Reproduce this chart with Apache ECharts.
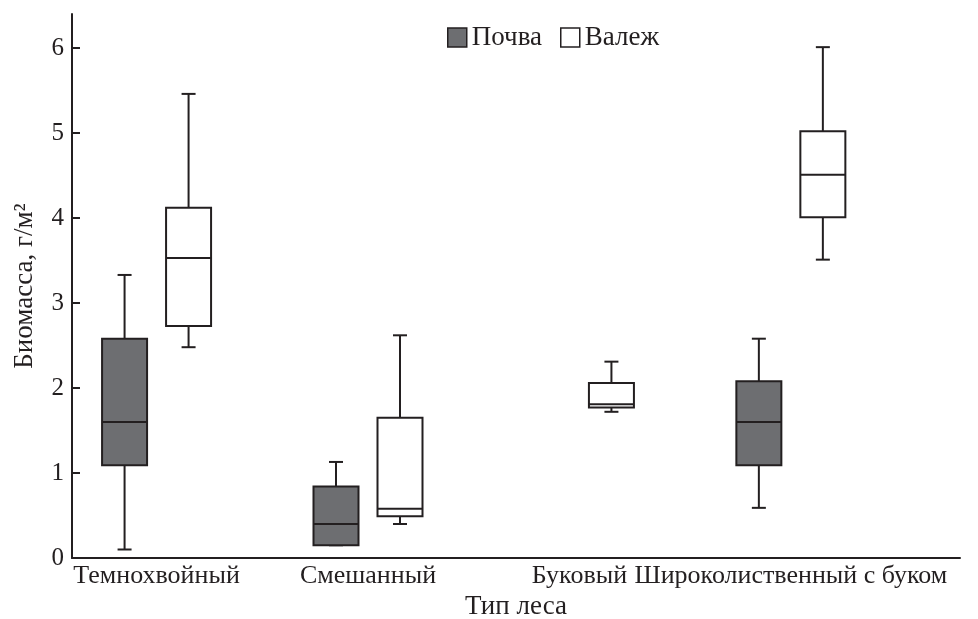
<!DOCTYPE html>
<html lang="ru">
<head>
    <meta charset="UTF-8">
    <title>Биомасса по типам леса</title>
    <script src="https://cdn.jsdelivr.net/npm/echarts@6/dist/echarts.min.js"></script>
</head>
<body style="margin:0">
    <div id="main" style="width: 978px; height: 619px;"></div>

    <script>
        // Forest types (x axis)
        var categories = ['Темнохвойный', 'Смешанный', 'Буковый', 'Широколиственный с буком'];
        // [min, Q1, median, Q3, max] per forest type, null = no box
        var pochva = [
            [0.1, 1.09, 1.6, 2.58, 3.33],
            [0.15, 0.15, 0.4, 0.84, 1.13],
            null,
            [0.59, 1.09, 1.6, 2.08, 2.58]
        ];
        var valezh = [
            [2.48, 2.73, 3.53, 4.12, 5.46],
            [0.4, 0.49, 0.58, 1.65, 2.62],
            [1.72, 1.77, 1.81, 2.06, 2.31],
            [3.51, 4.01, 4.51, 5.02, 6.01]
        ];
        var yTicks = [0, 1, 2, 3, 4, 5, 6];

        var ink = '#231f20';
        var font = 'Liberation Serif';

        function toRows(list) {
            var rows = [];
            list.forEach(function (v, i) {
                if (v) rows.push([i].concat(v));
            });
            return rows;
        }

        // draws one box + whiskers, shifted sideways by offset px
        function boxRenderer(offset, fill) {
            return function (params, api) {
                var x = api.value(0);
                var pMin = api.coord([x, api.value(1)]);
                var pQ1 = api.coord([x, api.value(2)]);
                var pMed = api.coord([x, api.value(3)]);
                var pQ3 = api.coord([x, api.value(4)]);
                var pMax = api.coord([x, api.value(5)]);
                var cx = pMin[0] + offset;
                var hw = 22.5, cap = 7;
                var line = { stroke: ink, lineWidth: 2 };
                return {
                    type: 'group',
                    children: [
                        { type: 'line', shape: { x1: cx, y1: pMax[1], x2: cx, y2: pQ3[1] }, style: line },
                        { type: 'line', shape: { x1: cx, y1: pMin[1], x2: cx, y2: pQ1[1] }, style: line },
                        { type: 'line', shape: { x1: cx - cap, y1: pMax[1], x2: cx + cap, y2: pMax[1] }, style: line },
                        { type: 'line', shape: { x1: cx - cap, y1: pMin[1], x2: cx + cap, y2: pMin[1] }, style: line },
                        { type: 'rect', shape: { x: cx - hw, y: pQ3[1], width: hw * 2, height: pQ1[1] - pQ3[1] },
                          style: { fill: fill, stroke: ink, lineWidth: 2 } },
                        { type: 'line', shape: { x1: cx - hw, y1: pMed[1], x2: cx + hw, y2: pMed[1] }, style: line }
                    ]
                };
            };
        }

        var chart = echarts.init(document.getElementById('main'));

        var option = {
            animation: false,
            backgroundColor: '#fff',
            textStyle: { fontFamily: font, color: ink },
            legend: {
                top: 19,
                left: 442,
                itemWidth: 19,
                itemHeight: 19,
                itemGap: 18,
                icon: 'rect',
                textStyle: { fontFamily: font, fontSize: 27, color: ink },
                itemStyle: { borderColor: ink, borderWidth: 1.5 },
                data: ['Почва', 'Валеж']
            },
            grid: { left: 72, right: 18, top: 14, bottom: 61, outerBoundsMode: 'none' },
            xAxis: {
                type: 'value',
                min: -0.4,
                max: 3.8,
                name: 'Тип леса',
                nameLocation: 'middle',
                nameGap: 30,
                nameTextStyle: { fontFamily: font, fontSize: 27, color: ink },
                splitLine: { show: false },
                axisTick: { show: false },
                axisLine: { onZero: false, lineStyle: { color: ink, width: 2 } },
                axisLabel: {
                    customValues: categories.map(function (c, i) { return i; }),
                    formatter: function (v) { return categories[v] || ''; },
                    hideOverlap: false,
                    fontFamily: font,
                    fontSize: 26,
                    color: ink,
                    margin: 5
                }
            },
            yAxis: {
                type: 'value',
                min: 0,
                max: 6.4,
                name: 'Биомасса, г/м²',
                nameLocation: 'middle',
                nameRotate: 90,
                nameGap: 34,
                nameTextStyle: { fontFamily: font, fontSize: 27, color: ink },
                splitLine: { show: false },
                axisLine: { show: true, onZero: false, lineStyle: { color: ink, width: 2 } },
                axisTick: { show: true, inside: true, length: 8, customValues: yTicks, lineStyle: { color: ink, width: 2 } },
                axisLabel: { customValues: yTicks, fontFamily: font, fontSize: 25, color: ink, margin: 8 }
            },
            series: [
                {
                    name: 'Почва',
                    type: 'custom',
                    itemStyle: { color: '#6d6e71', borderColor: ink, borderWidth: 1.5 },
                    encode: { x: 0, y: [1, 2, 3, 4, 5] },
                    renderItem: boxRenderer(-32, '#6d6e71'),
                    data: toRows(pochva)
                },
                {
                    name: 'Валеж',
                    type: 'custom',
                    itemStyle: { color: '#ffffff', borderColor: ink, borderWidth: 1.5 },
                    encode: { x: 0, y: [1, 2, 3, 4, 5] },
                    renderItem: boxRenderer(32, '#ffffff'),
                    data: toRows(valezh)
                }
            ]
        };

        chart.setOption(option);
    </script>
</body>
</html>
